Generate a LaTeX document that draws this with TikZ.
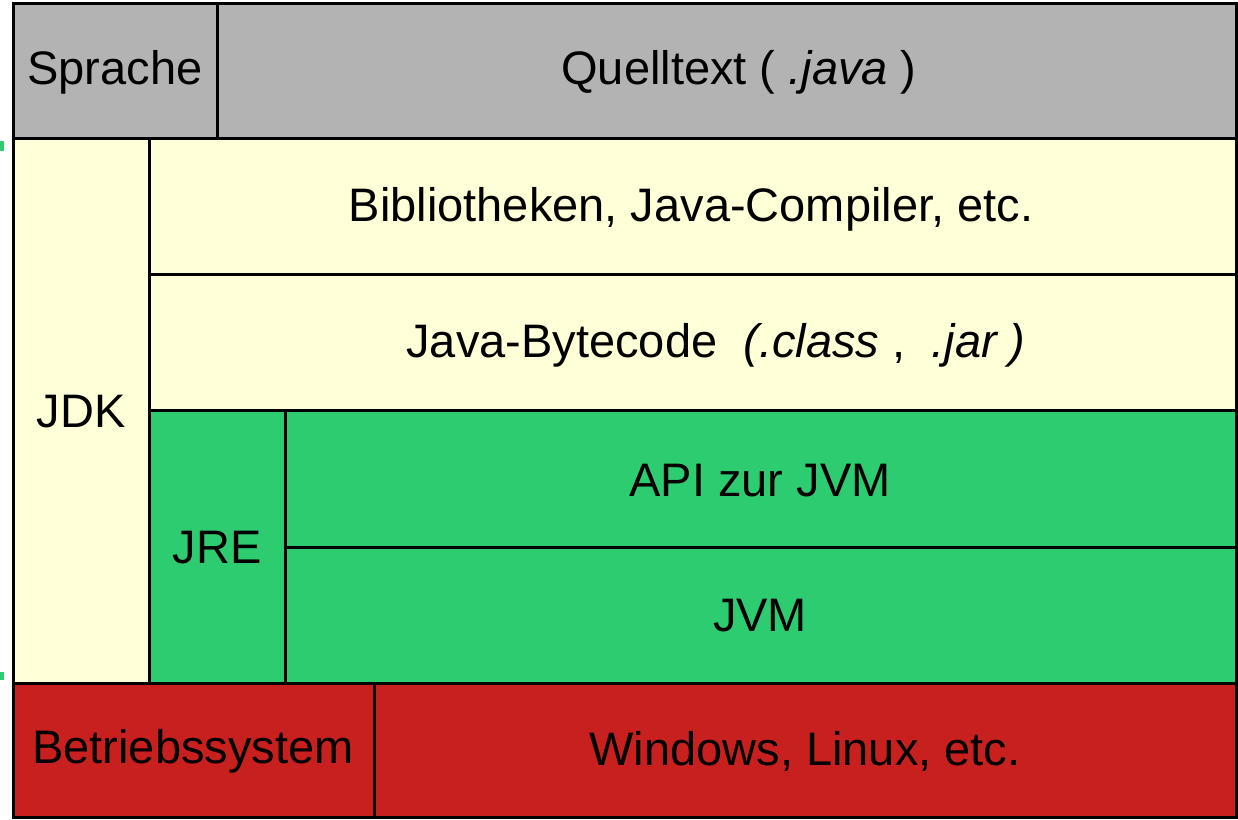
\documentclass[tikz,border=0pt]{standalone}
\usepackage{fontspec}
\setmainfont{Liberation Sans}
\definecolor{cgrey}{HTML}{B3B3B3}
\definecolor{cyel}{HTML}{FFFFD8}
\definecolor{cgreen}{HTML}{2ECC71}
\definecolor{cred}{HTML}{C8201E}
\tikzset{
  cell/.style={draw=black, line width=3pt, inner sep=0pt},
  lbl/.style={font=\fontsize{47}{54}\selectfont, text=black, inner sep=0pt},
}
\begin{document}
\begin{tikzpicture}[x=1pt,y=-1pt]
\useasboundingbox (0,0) rectangle (1238,819);
% cells
\path[cell, fill=cgrey] (13,3) rectangle (217,138);
\path[cell, fill=cgrey] (217,3) rectangle (1236,138);
\path[cell, fill=cyel] (13,138) rectangle (149,683);
\path[cell, fill=cyel] (149,138) rectangle (1236,274);
\path[cell, fill=cyel] (149,274) rectangle (1236,410);
\path[cell, fill=cgreen] (149,410) rectangle (285,683);
\path[cell, fill=cgreen] (285,410) rectangle (1236,547);
\path[cell, fill=cgreen] (285,547) rectangle (1236,683);
\path[cell, fill=cred] (13,683) rectangle (374,817);
\path[cell, fill=cred] (374,683) rectangle (1236,817);
% small marks at left edge
\fill[cgreen] (0,141) rectangle (4,151);
\fill[cgreen] (0,672) rectangle (4,680);
% labels
\node[lbl] (sprache) at (115,72) {Sprache};
\node[lbl] (quell) at (739,72) {Quelltext ( \textit{.java} )};
\node[lbl] (bib) at (691,209) {Bibliotheken, Java-Compiler, etc.};
\node[lbl] (byte) at (716,345) {Java-Bytecode\ \ \textit{(.class} ,\ \ \textit{.jar )}};
\node[lbl] (jdk) at (81,412) {JDK};
\node[lbl] (jre) at (217,548) {JRE};
\node[lbl] (api) at (760,481) {API zur JVM};
\node[lbl] (jvm) at (760,616) {JVM};
\node[lbl] (bs) at (193,751) {Betriebssystem};
\node[lbl] (win) at (805,751) {Windows, Linux, etc.};
\end{tikzpicture}
\end{document}
